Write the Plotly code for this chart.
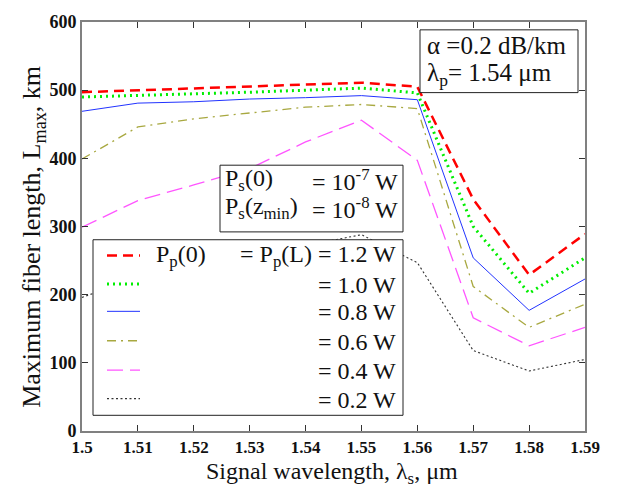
import plotly.graph_objects as go

# ---- data ----
wavelength = [1.50, 1.51, 1.52, 1.53, 1.54, 1.55, 1.56, 1.57, 1.58, 1.59]
L_12 = [497, 500, 502, 505, 508, 511, 505, 340, 229, 289]
L_10 = [490, 492, 494, 497, 500, 503, 496, 300, 202, 254]
L_08 = [469, 481, 483, 487, 489, 492, 486, 254, 177, 223]
L_06 = [399, 446, 458, 466, 475, 479, 473, 212, 152, 186]
L_04 = [299, 338, 361, 385, 424, 456, 397, 166, 125, 152]
L_02 = [196, 225, 245, 260, 272, 288, 247, 118, 88, 105]

x_ticks = [1.50, 1.51, 1.52, 1.53, 1.54, 1.55, 1.56, 1.57, 1.58, 1.59]
x_ticktext = ["1.5", "1.51", "1.52", "1.53", "1.54", "1.55", "1.56", "1.57", "1.58", "1.59"]
y_ticks = [0, 100, 200, 300, 400, 500, 600]

legend_labels = ["= P<sub>p</sub>(L) = 1.2 W", "= 1.0 W", "= 0.8 W", "= 0.6 W", "= 0.4 W", "= 0.2 W"]

series = [L_12, L_10, L_08, L_06, L_04, L_02]
colors = ["#FF0000", "#00EE00", "#2233FF", "#A8A840", "#FF55FF", "#333333"]
widths = [2.5, 3, 1, 1.3, 1.3, 1.1]
dashes = ["10px,6px", "2px,4px", "solid", "9px,5px,2px,5px", "16px,7px", "2px,2.5px"]

SERIF = "Liberation Serif, Times New Roman, serif"
W, H = 619, 493
PL, PR, PT, PB = 82, 585, 14, 431


def px(x):
    return (x - PL) / (PR - PL)


def py(y):
    return (PB - y) / (PB - PT)


fig = go.Figure()
for ys, c, w, d in zip(series, colors, widths, dashes):
    fig.add_trace(go.Scatter(x=wavelength, y=ys, mode="lines",
                             line=dict(color=c, width=w, dash=d),
                             showlegend=False, hoverinfo="skip"))

shapes = []
annotations = []


def box(x0, y0, x1, y1):
    shapes.append(dict(type="rect", xref="paper", yref="paper",
                       x0=px(x0), x1=px(x1), y0=py(y1), y1=py(y0),
                       fillcolor="white", line=dict(color="#222", width=1),
                       layer="above"))


def text(s, x, y, anchor="left", size=24):
    annotations.append(dict(text=s, xref="paper", yref="paper",
                            x=px(x), y=py(y), xanchor=anchor, yanchor="middle",
                            showarrow=False,
                            font=dict(family=SERIF, size=size, color="#111")))


# parameter box 1
box(420, 22, 578, 86)
text("α =0.2 dB/km", 425, 38, size=25)
text("λ<sub>p</sub>= 1.54 μm", 425, 68, size=25)

# parameter box 2
box(220, 160, 403, 228)
text("P<sub>s</sub>(0)", 223, 175)
text("= 10<sup>-7</sup> W", 400, 175, "right")
text("P<sub>s</sub>(z<sub>min</sub>)", 223, 204)
text("= 10<sup>-8</sup> W", 400, 204, "right")

# legend box
box(93, 236, 403, 415)
row_y = [253, 282, 310, 340, 370, 399]
for i, (lab, c, w, d) in enumerate(zip(legend_labels, colors, widths, dashes)):
    ly = row_y[i] - 1
    shapes.append(dict(type="line", xref="paper", yref="paper",
                       x0=px(107), x1=px(140), y0=py(ly), y1=py(ly),
                       line=dict(color=c, width=w, dash=d), layer="above"))
    text(lab, 398, row_y[i], "right")
text("P<sub>p</sub>(0)", 154, row_y[0])

# axis titles
annotations.append(dict(text="Signal wavelength, λ<sub>s</sub>, μm", xref="paper", yref="paper",
                        x=px(332), y=py(474), xanchor="center", yanchor="middle",
                        showarrow=False, font=dict(family=SERIF, size=24, color="#111")))
annotations.append(dict(text="Maximum fiber length, L<sub>max</sub>, km", xref="paper", yref="paper",
                        x=px(33), y=py(233), xanchor="center", yanchor="middle", textangle=-90,
                        showarrow=False, font=dict(family=SERIF, size=26, color="#111")))

axis_common = dict(showline=True, linecolor="#808080", linewidth=2, mirror="ticks",
                   ticks="inside", ticklen=6, tickwidth=1, tickcolor="#333",
                   showgrid=False, zeroline=False)

fig.update_layout(
    width=W, height=H,
    margin=dict(l=PL, r=W - PR, t=PT, b=H - PB),
    paper_bgcolor="white", plot_bgcolor="white",
    xaxis=dict(range=[1.5, 1.59], tickvals=x_ticks, ticktext=x_ticktext,
               tickfont=dict(family=SERIF, size=17, color="#111", weight="bold"), **axis_common),
    yaxis=dict(range=[0, 600], tickvals=y_ticks,
               tickfont=dict(family=SERIF, size=18, color="#111", weight="bold"), **axis_common),
    shapes=shapes, annotations=annotations, showlegend=False,
)

fig.write_html("out.html")
